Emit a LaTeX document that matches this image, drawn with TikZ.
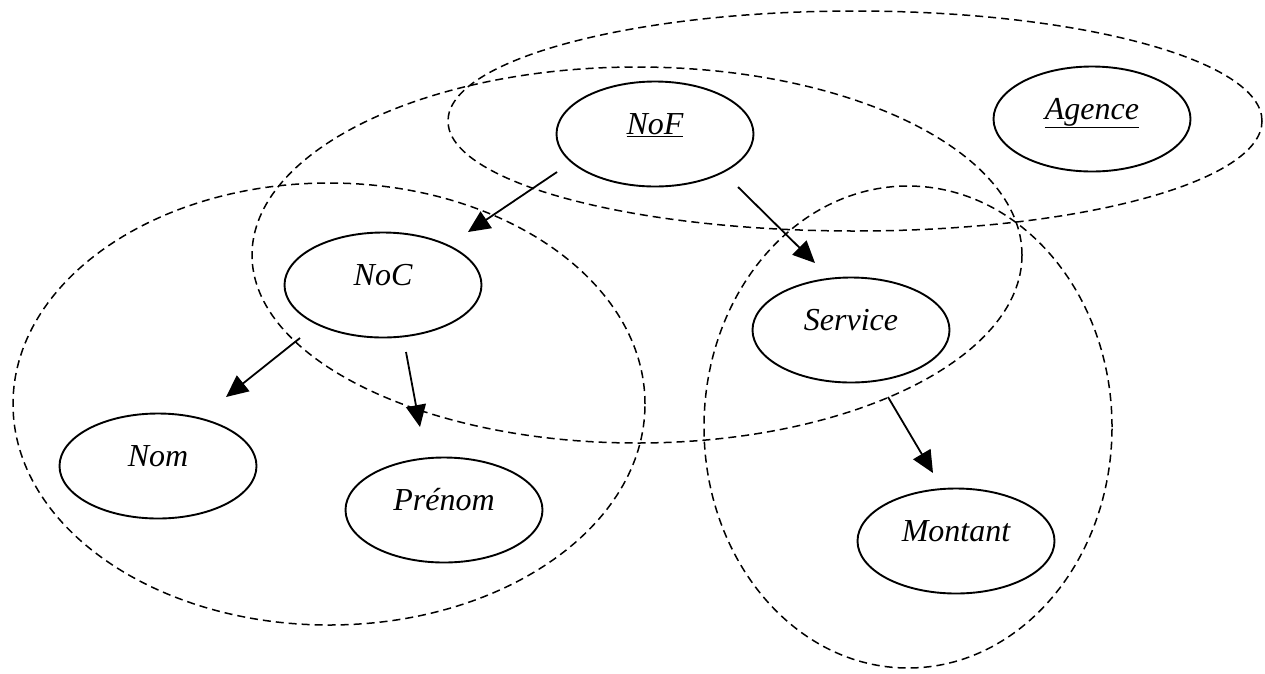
\documentclass[tikz,border=0pt]{standalone}
\usepackage{fontspec}
\setmainfont{Liberation Serif}
\usepackage{tikz}
\usetikzlibrary{shapes.geometric,arrows.meta}

\tikzset{
  attr/.style={ellipse, draw, line width=1.9pt, minimum width=197pt, minimum height=105pt,
    inner sep=0pt, text height=22pt, text depth=22pt, font=\fontsize{32}{38}\selectfont\itshape},
  grp/.style={draw, line width=1.5pt, dash pattern=on 8pt off 5pt},
  dep/.style={-{Triangle[length=22pt,width=20pt]}, line width=1.8pt}
}

\begin{document}
\begin{tikzpicture}[x=1pt, y=-1pt]
            \useasboundingbox (0,0) rectangle (1265,673);

            % groupes
            \draw[grp] (855,121) ellipse [x radius=407pt, y radius=110pt];
            \draw[grp] (637,255) ellipse [x radius=385pt, y radius=188pt];
            \draw[grp] (329,404) ellipse [x radius=316pt, y radius=221pt];
            \draw[grp] (908,427) ellipse [x radius=204pt, y radius=241pt];

            \node[attr] (nof) at (655, 134) {\underline{NoF}};
            \node[attr] (agence) at (1092, 119) {\underline{Agence}};
            \node[attr] (noc) at (383, 285) {NoC};
            \node[attr] (service) at (851, 330) {Service};
            \node[attr] (nom) at (158, 466) {Nom};
            \node[attr] (prenom) at (444, 510) {Prénom};
            \node[attr] (montant) at (956, 541) {Montant};

            \draw[dep] ([shift={(-98,38)}]nof.center) to ([shift={(85,-53)}]noc.center);
            \draw[dep] ([shift={(83,53)}]nof.center) to ([shift={(-36,-67)}]service.center);
            \draw[dep] ([shift={(-83,53)}]noc.center) to ([shift={(68,-69)}]nom.center);
            \draw[dep] ([shift={(23,67)}]noc.center) to ([shift={(-24,-83)}]prenom.center);
            \draw[dep] ([shift={(37,67)}]service.center) to ([shift={(-23,-68)}]montant.center);
        \end{tikzpicture}
\end{document}
